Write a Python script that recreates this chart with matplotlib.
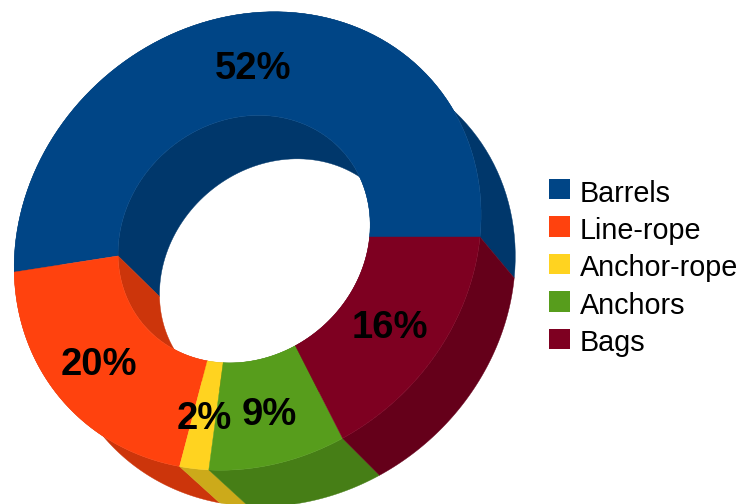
import matplotlib
matplotlib.use("Agg")
import matplotlib.pyplot as plt
from matplotlib.patches import Patch
import numpy as np

plt.rcParams["font.family"] = ["Liberation Sans", "DejaVu Sans"]

categories = ["Barrels", "Line-rope", "Anchor-rope", "Anchors", "Bags"]
percents = [52, 20, 2, 9, 16]
colors = ["#004586", "#ff420e", "#ffd320", "#579d1c", "#7e0021"]
dark_colors = ["#00376b", "#cc350b", "#ccaa1a", "#467e16", "#65001a"]
label_xy = [(253, 69), (99, 365), (204, 419), (269, 415), (390, 328)]

CENTER = np.array([240.0, 237.0])
INNER = 0.54


def project(theta, radius, back=False):
    # tilted ring with a slight perspective, y axis pointing down
    c, s = np.cos(theta), np.sin(theta)
    w = 1 - 0.035 * c + 0.0175 * s
    x = radius * (231.6 * c + 27 * s) / w
    y = radius * (-229 * s) / w
    if back:
        x, y = 0.98 * x + 39, 0.98 * y + 41
    return x + CENTER[0], y + CENTER[1]


def band(ax, t0, t1, r0, r1, back0, back1, color):
    t = np.linspace(t0, t1, 90)
    x0, y0 = project(t, r0, back0)
    x1, y1 = project(t[::-1], r1, back1)
    ax.fill(np.r_[x0, x1], np.r_[y0, y1], color=color, lw=0.3, zorder=2)


fig = plt.figure(figsize=(7.41, 5.04), dpi=100)
ax = fig.add_axes([0, 0, 1, 1])
ax.set_xlim(0, 741)
ax.set_ylim(504, 0)
ax.axis("off")

edges = np.r_[0, np.cumsum(percents)] / sum(percents) * 2 * np.pi

# side walls first, the top of the ring goes over them
for i, dark in enumerate(dark_colors):
    band(ax, edges[i], edges[i + 1], 1, 1, False, True, dark)
for i, dark in enumerate(dark_colors):
    band(ax, edges[i], edges[i + 1], INNER, INNER, False, True, dark)

for i, color in enumerate(colors):
    t = np.linspace(edges[i], edges[i + 1], 90)
    x0, y0 = project(t, 1)
    x1, y1 = project(t[::-1], INNER)
    ax.fill(np.r_[x0, x1], np.r_[y0, y1], color=color, lw=0.3, zorder=3)

for p, (x, y) in zip(percents, label_xy):
    ax.text(x, y, f"{p}%", fontsize=27.5, fontweight="bold", color="black",
            ha="center", va="center", zorder=4)

handles = [Patch(facecolor=c, edgecolor="none") for c in colors]
leg = ax.legend(handles, categories, loc="center left", bbox_to_anchor=(549, 266),
                bbox_transform=ax.transData, frameon=False, fontsize=20.7,
                handlelength=0.73, handleheight=0.73, handletextpad=0.34,
                labelspacing=0.33, borderpad=0, borderaxespad=0)
for t in leg.get_texts():
    t.set_y(-2.5)

fig.savefig("out.png", dpi=100)
